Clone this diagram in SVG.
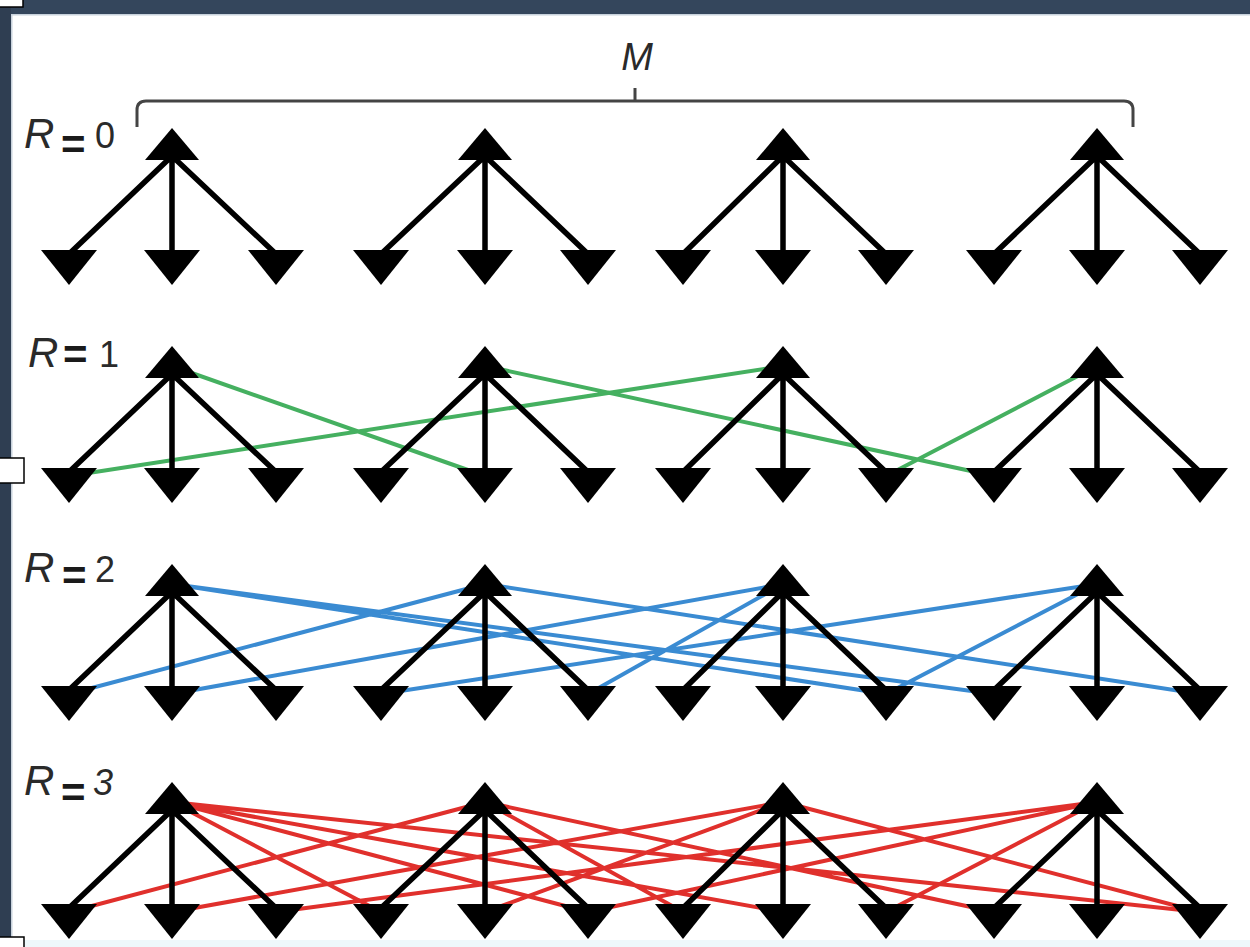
<svg xmlns="http://www.w3.org/2000/svg" xmlns:xlink="http://www.w3.org/1999/xlink" width="1250" height="947" viewBox="0 0 1250 947">
<style>
.lbl{font-family:"Liberation Sans",Arial,sans-serif;fill:#2a2a2a}
.it{font-style:italic}
.eq{font-family:"Liberation Sans",Arial,sans-serif;fill:#1a1a1a;font-weight:bold;font-size:42px}
.blk{stroke:#000;stroke-width:5.5;fill:none}
.g{stroke:#45b060;stroke-width:4;fill:none}
.b{stroke:#3a8bd2;stroke-width:4;fill:none}
.r{stroke:#e0302c;stroke-width:4;fill:none}
</style>
<defs>
<polygon id="up" points="0,0 -27,32 27,32"/>
<polygon id="dn" points="-28,0 28,0 0,35"/>
</defs>
<rect x="0" y="0" width="1250" height="947" fill="#ffffff"/>
<rect x="0" y="0" width="1250" height="14" fill="#34465c"/>
<rect x="0" y="14" width="1250" height="1.5" fill="#c8d2dc"/>
<rect x="0" y="0" width="11" height="947" fill="#2f3e52"/>
<rect x="11" y="14" width="1.5" height="933" fill="#c8d2dc"/>
<rect x="0" y="940" width="1250" height="7" fill="#eef8fb"/>
<rect x="-1" y="-1" width="24" height="8" fill="#fff" stroke="#000" stroke-width="1.5"/>
<rect x="-1" y="458" width="25" height="25" fill="#fff" stroke="#000" stroke-width="1.5"/>
<rect x="-1" y="937" width="25" height="12" fill="#fff" stroke="#000" stroke-width="1.5"/>

<g id="brace">
<path d="M137 127V110Q137 101 146 101H1124Q1133 101 1133 110V127M635 101V88" fill="none" stroke="#444" stroke-width="3"/>
<text class="lbl it" x="637" y="70" font-size="38" text-anchor="middle">M</text>
</g>

<g id="labels">
<text class="lbl it" x="24" y="148" font-size="42">R</text><text class="eq" x="61" y="159">=</text><text class="lbl" x="95" y="148" font-size="36">0</text>
<text class="lbl it" x="28" y="367" font-size="42">R</text><text class="eq" x="63" y="369">=</text><text class="lbl" x="99" y="367" font-size="36">1</text>
<text class="lbl it" x="24" y="582" font-size="42">R</text><text class="eq" x="62" y="590">=</text><text class="lbl" x="95" y="582" font-size="36">2</text>
<text class="lbl it" x="24" y="795" font-size="42">R</text><text class="eq" x="61" y="807">=</text><text class="lbl it" x="93" y="795" font-size="36">3</text>
</g>

<g id="connectors">
<!-- R=1 green -->
<path class="g" d="M172 366L485 476M69 476L783 366M485 366L994 476M1097 366L886 476"/>
<!-- R=2 blue -->
<path class="b" d="M172 584L886 694M172 584L994 694M485 584L69 694M485 584L1200 694M783 584L172 694M783 584L588 694M1097 584L381 694M1097 584L886 694"/>
<!-- R=3 red -->
<path class="r" d="M172 802L381 912M172 802L588 912M172 802L783 912M172 802L1200 912M485 802L69 912M485 802L683 912M485 802L994 912M783 802L172 912M783 802L485 912M783 802L1200 912M1097 802L276 912M1097 802L588 912M1097 802L886 912"/>
<!-- black -->
<path class="blk" d="M172 156L69 254M172 156V254M172 156L276 254M485 156L381 254M485 156V254M485 156L588 254M783 156L683 254M783 156V254M783 156L886 254M1097 156L994 254M1097 156V254M1097 156L1200 254"/>
<path class="blk" d="M172 374L69 472M172 374V472M172 374L276 472M485 374L381 472M485 374V472M485 374L588 472M783 374L683 472M783 374V472M783 374L886 472M1097 374L994 472M1097 374V472M1097 374L1200 472"/>
<path class="blk" d="M172 592L69 690M172 592V690M172 592L276 690M485 592L381 690M485 592V690M485 592L588 690M783 592L683 690M783 592V690M783 592L886 690M1097 592L994 690M1097 592V690M1097 592L1200 690"/>
<path class="blk" d="M172 810L69 908M172 810V908M172 810L276 908M485 810L381 908M485 810V908M485 810L588 908M783 810L683 908M783 810V908M783 810L886 908M1097 810L994 908M1097 810V908M1097 810L1200 908"/>
</g>

<g id="r0-a1"><use href="#up" x="172" y="128"/></g><g id="r0-a2"><use href="#up" x="485" y="128"/></g><g id="r0-a3"><use href="#up" x="783" y="128"/></g><g id="r0-a4"><use href="#up" x="1097" y="128"/></g>
<g id="r1-a1"><use href="#up" x="172" y="346"/></g><g id="r1-a2"><use href="#up" x="485" y="346"/></g><g id="r1-a3"><use href="#up" x="783" y="346"/></g><g id="r1-a4"><use href="#up" x="1097" y="346"/></g>
<g id="r2-a1"><use href="#up" x="172" y="564"/></g><g id="r2-a2"><use href="#up" x="485" y="564"/></g><g id="r2-a3"><use href="#up" x="783" y="564"/></g><g id="r2-a4"><use href="#up" x="1097" y="564"/></g>
<g id="r3-a1"><use href="#up" x="172" y="782"/></g><g id="r3-a2"><use href="#up" x="485" y="782"/></g><g id="r3-a3"><use href="#up" x="783" y="782"/></g><g id="r3-a4"><use href="#up" x="1097" y="782"/></g>

<g id="r0-d1"><use href="#dn" x="69" y="250"/></g><g id="r0-d2"><use href="#dn" x="172" y="250"/></g><g id="r0-d3"><use href="#dn" x="276" y="250"/></g><g id="r0-d4"><use href="#dn" x="381" y="250"/></g><g id="r0-d5"><use href="#dn" x="485" y="250"/></g><g id="r0-d6"><use href="#dn" x="588" y="250"/></g><g id="r0-d7"><use href="#dn" x="683" y="250"/></g><g id="r0-d8"><use href="#dn" x="783" y="250"/></g><g id="r0-d9"><use href="#dn" x="886" y="250"/></g><g id="r0-d10"><use href="#dn" x="994" y="250"/></g><g id="r0-d11"><use href="#dn" x="1097" y="250"/></g><g id="r0-d12"><use href="#dn" x="1200" y="250"/></g>
<g id="r1-d1"><use href="#dn" x="69" y="468"/></g><g id="r1-d2"><use href="#dn" x="172" y="468"/></g><g id="r1-d3"><use href="#dn" x="276" y="468"/></g><g id="r1-d4"><use href="#dn" x="381" y="468"/></g><g id="r1-d5"><use href="#dn" x="485" y="468"/></g><g id="r1-d6"><use href="#dn" x="588" y="468"/></g><g id="r1-d7"><use href="#dn" x="683" y="468"/></g><g id="r1-d8"><use href="#dn" x="783" y="468"/></g><g id="r1-d9"><use href="#dn" x="886" y="468"/></g><g id="r1-d10"><use href="#dn" x="994" y="468"/></g><g id="r1-d11"><use href="#dn" x="1097" y="468"/></g><g id="r1-d12"><use href="#dn" x="1200" y="468"/></g>
<g id="r2-d1"><use href="#dn" x="69" y="686"/></g><g id="r2-d2"><use href="#dn" x="172" y="686"/></g><g id="r2-d3"><use href="#dn" x="276" y="686"/></g><g id="r2-d4"><use href="#dn" x="381" y="686"/></g><g id="r2-d5"><use href="#dn" x="485" y="686"/></g><g id="r2-d6"><use href="#dn" x="588" y="686"/></g><g id="r2-d7"><use href="#dn" x="683" y="686"/></g><g id="r2-d8"><use href="#dn" x="783" y="686"/></g><g id="r2-d9"><use href="#dn" x="886" y="686"/></g><g id="r2-d10"><use href="#dn" x="994" y="686"/></g><g id="r2-d11"><use href="#dn" x="1097" y="686"/></g><g id="r2-d12"><use href="#dn" x="1200" y="686"/></g>
<g id="r3-d1"><use href="#dn" x="69" y="904"/></g><g id="r3-d2"><use href="#dn" x="172" y="904"/></g><g id="r3-d3"><use href="#dn" x="276" y="904"/></g><g id="r3-d4"><use href="#dn" x="381" y="904"/></g><g id="r3-d5"><use href="#dn" x="485" y="904"/></g><g id="r3-d6"><use href="#dn" x="588" y="904"/></g><g id="r3-d7"><use href="#dn" x="683" y="904"/></g><g id="r3-d8"><use href="#dn" x="783" y="904"/></g><g id="r3-d9"><use href="#dn" x="886" y="904"/></g><g id="r3-d10"><use href="#dn" x="994" y="904"/></g><g id="r3-d11"><use href="#dn" x="1097" y="904"/></g><g id="r3-d12"><use href="#dn" x="1200" y="904"/></g>
</svg>
